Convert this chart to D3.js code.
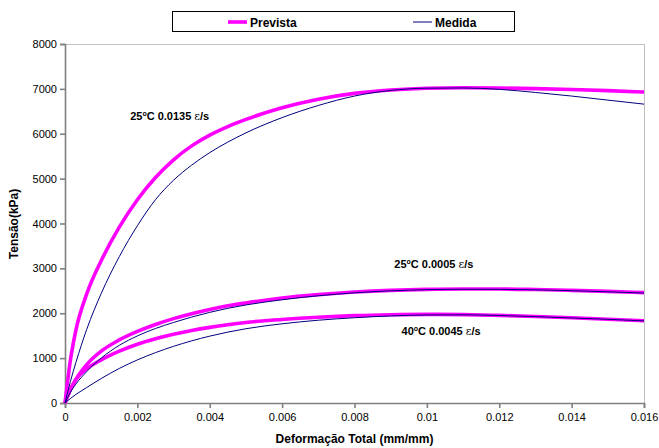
<!DOCTYPE html>
<html><head><meta charset="utf-8">
<script src="https://cdn.jsdelivr.net/npm/d3@7"></script>
<style>body{margin:0;background:#fff;} text{font-family:"Liberation Sans",Arial,sans-serif;}</style>
</head><body><svg id="c" width="659" height="448"></svg>
<script>
const strain = [0,0.00015,0.0003,0.0006,0.001,0.0015,0.002,0.0025,0.003,0.0035,0.004,0.0045,0.005,0.006,0.007,0.008,0.009,0.010,0.011,0.012,0.013,0.014,0.015,0.016];
const prev25fast = [0,960,1620,2430,3170,3920,4530,5025,5420,5730,5970,6160,6320,6580,6770,6900,6975,7015,7025,7020,7005,6985,6960,6930];
const med25fast  = [0,480,900,1640,2440,3260,3950,4530,4965,5300,5580,5815,6020,6360,6630,6840,6965,7015,7020,6990,6920,6840,6750,6660];
const prev25slow = [0,300,525,855,1155,1405,1595,1750,1880,1990,2085,2165,2230,2340,2415,2472,2510,2532,2541,2540,2528,2510,2487,2460];
const med25slow  = [0,240,420,700,1000,1285,1495,1660,1795,1915,2020,2110,2185,2300,2390,2455,2500,2525,2535,2533,2522,2503,2478,2450];
const prev40     = [0,300,520,760,960,1155,1310,1432,1532,1615,1685,1745,1795,1862,1912,1948,1968,1976,1970,1952,1928,1900,1868,1834];
const med40      = [0,100,190,345,545,770,960,1122,1263,1385,1490,1580,1655,1765,1845,1900,1940,1962,1965,1950,1925,1895,1865,1830];
const xTicks = [0,0.002,0.004,0.006,0.008,0.01,0.012,0.014,0.016];
const yTicks = [0,1000,2000,3000,4000,5000,6000,7000,8000];
const seriesNames = ["Prevista","Medida"];
const curveLabels = [
  {t:"25", rate:"0.0135", x:0.0018, y:6300},
  {t:"25", rate:"0.0005", x:0.0091, y:3000},
  {t:"40", rate:"0.0045", x:0.0093, y:1520}
];

const svg = d3.select("#c");
const L=65, R=644, T=44, B=403;
const x = d3.scaleLinear().domain([0,0.016]).range([L,R]);
const y = d3.scaleLinear().domain([0,8000]).range([B,T]);

// border top/right
svg.append("line").attr("x1",L).attr("x2",R).attr("y1",T+0.5).attr("y2",T+0.5).attr("stroke","#c0c0c0");
svg.append("line").attr("x1",R+0.5).attr("x2",R+0.5).attr("y1",T).attr("y2",B).attr("stroke","#c0c0c0");

// axes
const yAx = svg.append("g").attr("transform",`translate(${L},0)`)
  .call(d3.axisLeft(y).tickValues(yTicks).tickSize(5).tickPadding(3).tickFormat(d3.format("d")));
const xAx = svg.append("g").attr("transform",`translate(0,${B})`)
  .call(d3.axisBottom(x).tickValues(xTicks).tickSize(5).tickPadding(5).tickFormat(d=>d===0?"0":String(+d.toFixed(3))));
[yAx,xAx].forEach(g=>{
  g.selectAll("path,line").attr("stroke","#808080").attr("stroke-width",1.6);
  g.selectAll("text").attr("font-size",11).attr("fill","#000").attr("font-family","Liberation Sans, Arial, sans-serif");
});

const line = d3.line().x((d,i)=>x(strain[i])).y(d=>y(d)).curve(d3.curveMonotoneX);
const prevs=[prev25fast,prev25slow,prev40], meds=[med25fast,med25slow,med40];
prevs.forEach(s=>svg.append("path").attr("d",line(s)).attr("fill","none").attr("stroke","#ff00ff").attr("stroke-width",3.6).attr("stroke-linejoin","round"));
meds.forEach(s=>svg.append("path").attr("d",line(s)).attr("fill","none").attr("stroke","#000080").attr("stroke-width",1).attr("stroke-linejoin","round"));

// curve labels
curveLabels.forEach(c=>{
  const t=svg.append("text").attr("x",x(c.x)).attr("y",y(c.y)).attr("font-size",11).attr("font-weight","bold").attr("fill","#000");
  t.append("tspan").text(c.t);
  t.append("tspan").text("o").attr("font-size",7).attr("dy",-4);
  t.append("tspan").text("C "+c.rate+" ").attr("dy",4);
  t.append("tspan").text("ε").attr("font-weight","normal").attr("font-family","DejaVu Serif, serif");
  t.append("tspan").text("/s");
});

// axis titles
svg.append("text").attr("x",(L+R)/2).attr("y",443).attr("text-anchor","middle").attr("font-size",12).attr("font-weight","bold").text("Deformação Total (mm/mm)");
svg.append("text").attr("transform","translate(18,224) rotate(-90)").attr("text-anchor","middle").attr("font-size",12).attr("font-weight","bold").text("Tensão(kPa)");

// legend
svg.append("rect").attr("x",172.5).attr("y",11.5).attr("width",342).attr("height",20).attr("fill","#fff").attr("stroke","#000").attr("stroke-width",1);
const lg=[{x:228,c:"#ff00ff",w:3.6},{x:413,c:"#000080",w:1}];
lg.forEach((l,i)=>{
  svg.append("line").attr("x1",l.x).attr("x2",l.x+19).attr("y1",22).attr("y2",22).attr("stroke",l.c).attr("stroke-width",l.w);
  svg.append("text").attr("x",l.x+22).attr("y",26.5).attr("font-size",12).attr("font-weight","bold").text(seriesNames[i]);
});
</script></body></html>
